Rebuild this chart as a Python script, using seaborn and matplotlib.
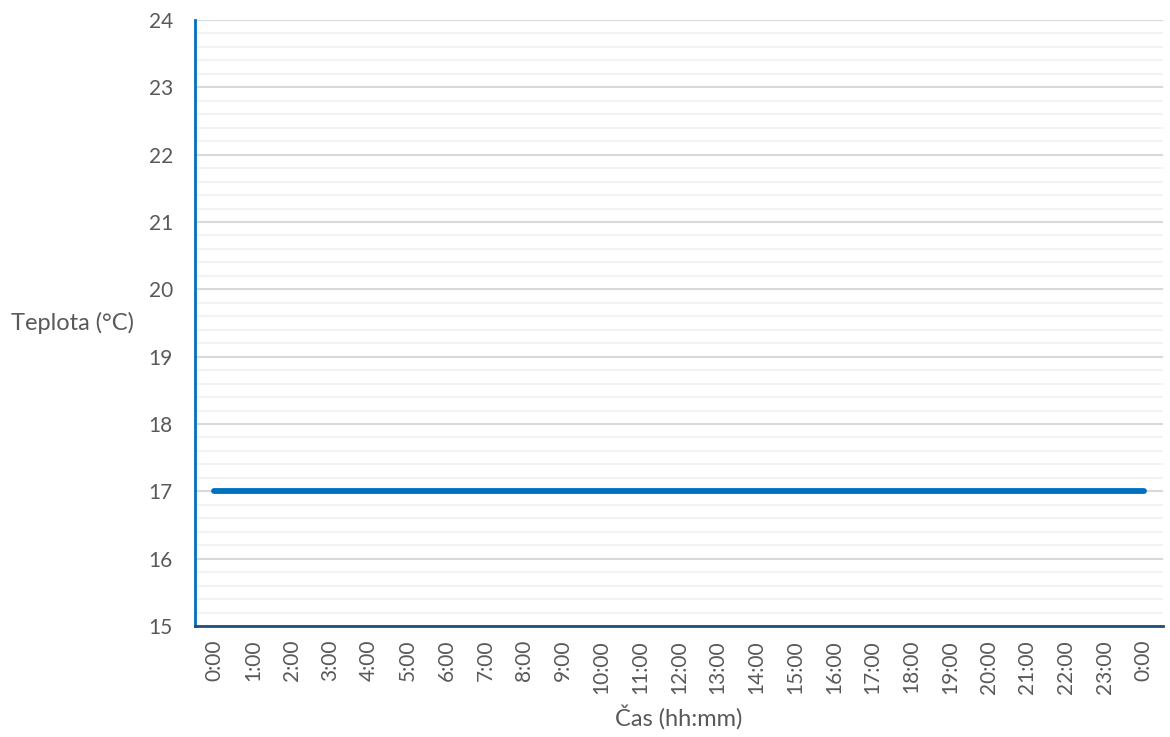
import pandas as pd
import matplotlib.pyplot as plt
import seaborn as sns
from matplotlib.ticker import MultipleLocator

# time labels (last one is midnight of the next day)
time_labels = [f"{h}:00" for h in range(24)] + ["0:00"]
temperature = [17] * 25

df = pd.DataFrame({"pos": range(len(time_labels)), "Teplota": temperature})

sns.set_style("white")
plt.rcParams["font.family"] = ["Lato", "DejaVu Sans"]

fig = plt.figure(figsize=(11.7, 7.37), dpi=100)
ax = fig.add_axes([0.1667, 0.1506, 0.8273, 0.8223])

sns.lineplot(data=df, x="pos", y="Teplota", color="#0070C0", linewidth=4.2,
             solid_capstyle="round", ax=ax, zorder=3)

ax.set_xlim(-0.5, len(time_labels) - 0.5)
ax.set_ylim(15, 24)
ax.yaxis.set_major_locator(MultipleLocator(1))
ax.yaxis.set_minor_locator(MultipleLocator(0.2))
ax.set_xticks(df["pos"])
ax.set_xticklabels(time_labels, rotation=90)

ax.grid(which="major", axis="y", color="#D9D9D9", linewidth=1.5)
ax.grid(which="minor", axis="y", color="#F2F2F2", linewidth=1.5)
ax.set_axisbelow(True)

for s in ["top", "right"]:
    ax.spines[s].set_visible(False)
ax.spines["left"].set_color("#0070C0")
ax.spines["left"].set_linewidth(2)
ax.spines["bottom"].set_color("#1F4E79")
ax.spines["bottom"].set_linewidth(2)

ax.tick_params(axis="both", which="both", length=0, labelsize=15, colors="#595959")
ax.tick_params(axis="y", pad=16)
ax.tick_params(axis="x", pad=10)

ax.set_xlabel("Čas (hh:mm)", fontsize=17, color="#595959", labelpad=8)
ax.set_ylabel("Teplota (°C)", fontsize=17, color="#595959", rotation=0,
              va="center", labelpad=0)
ax.yaxis.set_label_coords(-0.127, 0.5)

plt.savefig("out.png", dpi=100)
